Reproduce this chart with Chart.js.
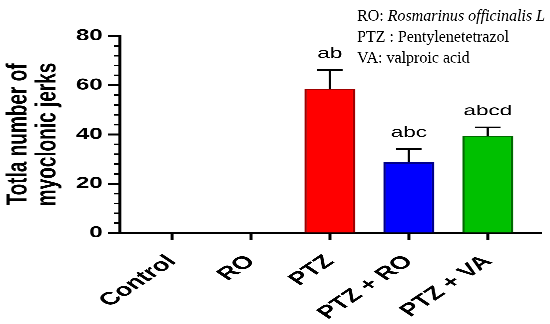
<!DOCTYPE html>
<html><head><meta charset="utf-8">
<script src="https://cdn.jsdelivr.net/npm/chart.js@4"></script>
<style>html,body{margin:0;padding:0;background:#fff;overflow:hidden}</style>
</head><body>
<canvas id="c" width="367" height="324" style="display:block;width:550px;height:324px"></canvas>
<script>
const categories = ['Control', 'RO', 'PTZ', 'PTZ + RO', 'PTZ + VA'];
const meanValues = [0, 0, 58.6, 28.7, 39.5];
const semValues = [0, 0, 7.6, 5.4, 3.4];
const sigLetters = ['', '', 'ab', 'abc', 'abcd'];
const barColors = ['#FF0000', '#FF0000', '#FF0000', '#0000FF', '#00C000'];
const barBorders = ['#A00000', '#A00000', '#A00000', '#00008B', '#006A00'];
const yTicks = [0, 20, 40, 60, 80];
const yMinorStep = 4;
const yTitle = ['Totla number of', 'myoclonic jerks'];
const notes = [
  [['RO: ', false], ['Rosmarinus officinalis L', true]],
  [['PTZ : Pentylenetetrazol', false]],
  [['VA: valproic acid', false]]
];

const SX = 550 / 367; // horizontal stretch of the original figure
const SANS = "'Liberation Sans', Arial, Helvetica, sans-serif";
const SERIF = "'Liberation Serif', 'Times New Roman', serif";
Chart.defaults.color = '#000';
Chart.defaults.font.family = SANS;

const extras = {
  id: 'extras',
  afterDatasetsDraw(chart) {
    const {ctx, chartArea, scales: {y}} = chart;
    const meta = chart.getDatasetMeta(0);
    ctx.save();
    ctx.strokeStyle = '#000';
    ctx.fillStyle = '#000';
    ctx.lineWidth = 1.6;
    ctx.beginPath();
    for (let v = y.min; v <= y.max; v += yMinorStep) {
      if (yTicks.includes(v)) continue;
      const py = y.getPixelForValue(v);
      ctx.moveTo(chartArea.left - 4, py);
      ctx.lineTo(chartArea.left, py);
    }
    ctx.stroke();
    ctx.lineWidth = 1.6;
    meta.data.forEach((bar, i) => {
      const e = semValues[i];
      if (!e) return;
      const yb = y.getPixelForValue(meanValues[i]);
      const yt = y.getPixelForValue(meanValues[i] + e);
      ctx.beginPath();
      ctx.moveTo(bar.x, yb);
      ctx.lineTo(bar.x, yt);
      ctx.moveTo(bar.x - 8.5, yt);
      ctx.lineTo(bar.x + 8.5, yt);
      ctx.stroke();
      ctx.font = '15px ' + SANS;
      ctx.textAlign = 'center';
      ctx.textBaseline = 'alphabetic';
      ctx.fillText(sigLetters[i], bar.x, yt - 12);
    });
    ctx.restore();
  },
  afterDraw(chart) {
    const {ctx} = chart;
    ctx.save();
    ctx.scale(1 / SX, 1);
    ctx.fillStyle = '#000';
    ctx.textAlign = 'left';
    ctx.textBaseline = 'alphabetic';
    notes.forEach((line, li) => {
      let x = 357;
      const by = 20.5 + li * 21;
      line.forEach(([txt, it]) => {
        ctx.font = (it ? 'italic ' : '') + '16px ' + SERIF;
        ctx.fillText(txt, x, by);
        x += ctx.measureText(txt).width;
      });
    });
    ctx.restore();
  }
};

new Chart(document.getElementById('c'), {
  type: 'bar',
  data: {
    datasets: [{
      data: categories.map((c, i) => ({x: i, y: meanValues[i]})),
      backgroundColor: barColors,
      borderColor: barBorders,
      borderWidth: 1.5,
      barPercentage: 0.645,
      categoryPercentage: 1
    }]
  },
  options: {
    responsive: false,
    devicePixelRatio: 3,
    animation: false,
    events: [],
    layout: {padding: {top: 36, right: 5.7, left: 0, bottom: 0}},
    plugins: {legend: {display: false}, tooltip: {enabled: false}},
    scales: {
      x: {
        type: 'linear',
        offset: false,
        min: -0.66,
        max: 4.68,
        afterBuildTicks: s => { s.ticks = categories.map((c, i) => ({value: i})); },
        afterFit: s => { s.height = 91; },
        ticks: {
          autoSkip: false, minRotation: 45, maxRotation: 45, padding: 11,
          font: {size: 18, weight: 'bold'},
          callback: v => categories[v]
        },
        grid: {display: true, offset: false, drawOnChartArea: false, drawTicks: true, tickLength: 7, tickWidth: 2, tickColor: '#000'},
        border: {display: true, color: '#000', width: 2.5}
      },
      y: {
        min: 0,
        max: 80,
        afterBuildTicks: s => { s.ticks = yTicks.map(v => ({value: v})); },
        afterFit: s => { s.width = 80; },
        ticks: {padding: 3.5, font: {size: 16, weight: 'bold'}},
        grid: {display: true, drawOnChartArea: false, drawTicks: true, tickLength: 8, tickWidth: 2, tickColor: '#000'},
        border: {display: true, color: '#000', width: 2},
        title: {
          display: true, text: yTitle,
          font: {size: 19, weight: 'bold', lineHeight: 1.02},
          padding: {top: 2.7, bottom: 0}
        }
      }
    }
  },
  plugins: [extras]
});
</script>
</body></html>
